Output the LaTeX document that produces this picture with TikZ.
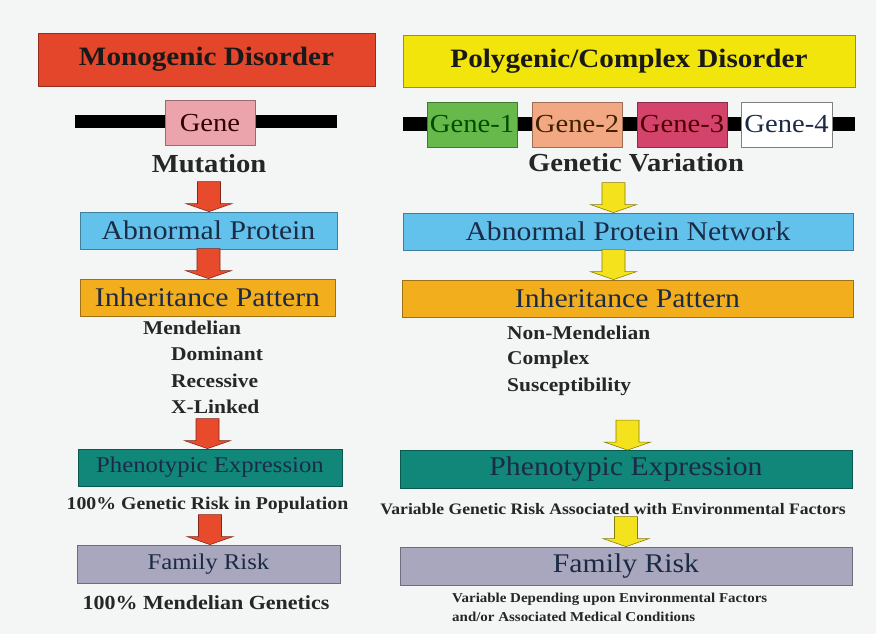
\documentclass[tikz,border=0pt]{standalone}
\usepackage{fontspec}
\setmainfont{Liberation Serif}[FakeStretch=1.1]
\usetikzlibrary{calc}

\definecolor{bgcol}{HTML}{F4F6F6}
\definecolor{monored}{HTML}{E4462B}
\definecolor{polyyel}{HTML}{F2E50B}
\definecolor{protblue}{HTML}{62C2EC}
\definecolor{inhorange}{HTML}{F3AE1E}
\definecolor{phenoteal}{HTML}{11877A}
\definecolor{famgrey}{HTML}{A8A7BE}
\definecolor{genepink}{HTML}{EBA3AC}
\definecolor{geneone}{HTML}{66B94A}
\definecolor{genetwo}{HTML}{F2A983}
\definecolor{genethree}{HTML}{D4436B}
\definecolor{arrowred}{HTML}{E84B2C}
\definecolor{arrowyel}{HTML}{F4E31C}
\definecolor{textnavy}{HTML}{1C2B45}

\tikzset{
  box/.style={rectangle, inner sep=0pt, fill=#1, draw=#1!65!black, line width=0.8pt,
    text=textnavy},
  titlebox/.style={box=#1, text=black!90, font=\fontsize{26.5}{28}\selectfont\bfseries},
  genebox/.style={box=#1, minimum width=90pt, minimum height=45pt,
    font=\fontsize{26}{28}\selectfont},
  bigtxt/.style={font=\fontsize{27}{29}\selectfont},
  smalltxt/.style={font=\fontsize{22.5}{24}\selectfont},
  label/.style={inner sep=0pt, text=black!85, font=\fontsize{#1}{#1}\selectfont\bfseries},
  blockarrow/.style={fill=#1, draw=#1!55!black, line width=0.6pt}
}

% block arrow: x from #1, tip on #2
\newcommand{\flowarrow}[3]{%
  \path[blockarrow=#3] let \p1=(#1), \p2=(#2) in
    (\x1-11.5pt,\y2+30pt) -- (\x1+11.5pt,\y2+30pt) -- (\x1+11.5pt,\y2+8pt)
    -- (\x1+23pt,\y2+8pt) -- (\x1,\y2) -- (\x1-23pt,\y2+8pt)
    -- (\x1-11.5pt,\y2+8pt) -- cycle;}

\begin{document}
\begin{tikzpicture}[x=1pt,y=-1pt]

\useasboundingbox (0,0) rectangle (876,634);
\fill[bgcol] (0,0) rectangle (876,634);

% titles
\node[titlebox=monored, minimum width=337pt, minimum height=53pt] (mono) at (206.5,59.5) {Monogenic Disorder};
\node[titlebox=polyyel, minimum width=452pt, minimum height=52pt] (poly) at (629,61) {Polygenic/Complex Disorder};

% genes
\fill[black] (75,115) rectangle (337,128);
\fill[black] (403,117) rectangle (855,131);
\node[genebox=genepink, text=black!80!red] (gene) at (210,123) {Gene};
\node[genebox=geneone, text=black!70!green] (g1) at (472,124.5) {Gene-1};
\node[genebox=genetwo, text=black!75!orange] (g2) at (577,124.5) {Gene-2};
\node[genebox=genethree, text=black!70!red] (g3) at (682,124.5) {Gene-3};
\node[genebox=white, draw=gray, minimum width=91pt] (g4) at (786.5,124.5) {Gene-4};

\node[label=26] (mut) at (209,164) {Mutation};
\node[label=26] (gv) at (636,163) {Genetic Variation};

% protein
\node[box=protblue, minimum width=257pt, minimum height=37pt, bigtxt] (ap) at (208.5,230.5) {Abnormal Protein};
\node[box=protblue, minimum width=450pt, minimum height=37pt, bigtxt] (anp) at (628,231.5) {Abnormal Protein Network};

% inheritance
\node[box=inhorange, minimum width=255pt, minimum height=37pt, bigtxt] (ip) at (207.5,297.5) {Inheritance Pattern};
\node[box=inhorange, minimum width=451pt, minimum height=37pt, bigtxt] (ip2) at (627.5,298.5) {Inheritance Pattern};

\node[label=19.5, anchor=west] (men) at (143,328) {Mendelian};
\node[label=19.5, anchor=west] (dom) at (171,354) {Dominant};
\node[label=19.5, anchor=west] (rec) at (171,381) {Recessive};
\node[label=19.5, anchor=west] (xl) at (171,407) {X-Linked};

\node[label=19.5, anchor=west] (nmen) at (507,333) {Non-Mendelian};
\node[label=19.5, anchor=west] (cpx) at (507,360) {Complex};
\node[label=19.5, anchor=west] (sus) at (507,387) {Susceptibility};

% phenotype
\node[box=phenoteal, minimum width=264pt, minimum height=37pt, smalltxt] (pe) at (210,467.5) {Phenotypic Expression};
\node[box=phenoteal, minimum width=452pt, minimum height=38pt, bigtxt] (pe2) at (626,469.5) {Phenotypic Expression};

\node[label=18] (gr) at (207.5,505) {100\% Genetic Risk in Population};
\node[label=16] (vgr) at (613,509) {Variable Genetic Risk Associated with Environmental Factors};

% family risk
\node[box=famgrey, minimum width=263pt, minimum height=38pt, smalltxt] (fr) at (208.5,564) {Family Risk};
\node[box=famgrey, minimum width=452pt, minimum height=38pt, bigtxt] (fr2) at (626,566) {Family Risk};

\node[label=20] (mg) at (206,603) {100\% Mendelian Genetics};
\node[label=13.6, anchor=west] (vd) at (452,599) {Variable Depending upon Environmental Factors};
\node[label=13.6, anchor=west] (amc) at (452,617) {and/or Associated Medical Conditions};

% arrows
\flowarrow{mut.south}{ap.north}{arrowred}
\flowarrow{ap.south}{ip.north}{arrowred}
\flowarrow{ip.south}{pe.north}{arrowred}
\flowarrow{pe.south}{fr.north}{arrowred}

\flowarrow{[xshift=-22.5pt]gv.south}{anp.north}{arrowyel}
\flowarrow{[xshift=-14.5pt]anp.south}{ip2.north}{arrowyel}
\flowarrow{ip2.south}{pe2.north}{arrowyel}
\flowarrow{pe2.south}{fr2.north}{arrowyel}

\end{tikzpicture}
\end{document}
